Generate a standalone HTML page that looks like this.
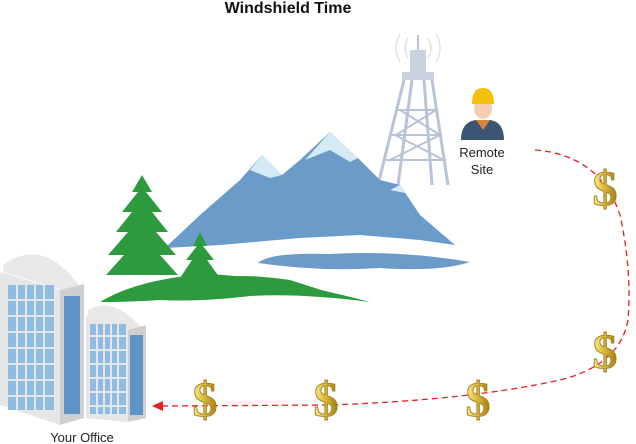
<!DOCTYPE html>
<html><head><style>body{margin:0;background:#fff}svg{display:block}</style></head><body>
<svg width="636" height="444" viewBox="0 0 636 444" xmlns="http://www.w3.org/2000/svg" font-family="Liberation Sans, sans-serif">
<defs>
<linearGradient id="g" x1="0" x2="1"><stop offset="0" stop-color="#fff0a0"/><stop offset="0.45" stop-color="#e0bb3a"/><stop offset="1" stop-color="#9a7a14"/></linearGradient>
<g id="d"><text x="0" y="0" font-size="50" font-weight="bold" fill="url(#g)" stroke="#a8862a" stroke-width="1" text-anchor="middle" font-family="Liberation Serif, serif">$</text></g>
</defs>
<text x="288" y="13" font-size="16" font-weight="bold" text-anchor="middle" fill="#111">Windshield Time</text>
<path d="M535,150 Q600,155 620,215 Q632,270 628,320 Q620,365 560,380 Q470,400 330,405 L160,406" fill="none" stroke="#e82020" stroke-width="1.3" stroke-dasharray="6,4"/>
<polygon points="152,406 163,401 163,411" fill="#e82020"/>
<g stroke="#b8c4d6" fill="none" stroke-width="3">
<path d="M404,80 L378,185 M432,80 L448,185 M412,80 L398,185 M424,80 L432,185"/>
<path d="M398,110 L438,110 M392,135 L442,135 M386,160 L446,160 M400,110 L440,135 M395,135 L444,160 M436,110 L396,135 M440,135 L390,160" stroke-width="2"/>
<rect x="402" y="72" width="32" height="8" fill="#c9d2e0" stroke="none"/>
<rect x="410" y="50" width="16" height="24" fill="#c9d2e0" stroke="none"/>
<path d="M418,50 L418,35" stroke-width="2"/>
<path d="M408,38 Q402,48 408,58 M428,38 Q434,48 428,58 M400,34 Q392,48 400,62 M436,34 Q444,48 436,62" stroke="#dfe3e8" stroke-width="1.5"/>
</g>
<path d="M165,248 L200,215 L240,180 L262,155 L282,175 L300,160 L330,132 L360,160 L380,180 L400,185 L420,215 L455,245 L420,240 L360,235 L300,238 L220,245 Z" fill="#6b9bc8"/>
<path d="M262,155 L250,170 L270,178 L282,175 Z M330,132 L305,160 L330,150 L350,162 L358,158 Z M400,185 L390,190 L405,193 Z" fill="#d4eaf4"/>
<path d="M258,263 Q270,252 330,254 Q400,250 470,262 Q440,272 380,268 Q320,272 258,263 Z" fill="#6b9bc8"/>
<g fill="#2e9a3e">
<path d="M142,175 L152,192 L146,192 L162,212 L152,212 L168,232 L156,232 L176,255 L160,255 L178,275 L106,275 L124,255 L108,255 L128,232 L116,232 L132,212 L122,212 L138,192 L132,192 Z"/>
<path d="M200,232 L207,246 L203,246 L214,260 L207,260 L220,278 L180,278 L192,260 L186,260 L197,246 L193,246 Z"/>
<path d="M100,302 Q140,278 210,274 Q280,278 370,302 Q300,293 250,296 Q200,302 160,300 Q130,302 100,302 Z"/>
<path d="M150,292 Q210,268 290,280 L340,296 Q260,286 150,292 Z"/>
</g>
<g>
<path d="M3,265 Q45,235 82,290 L82,296 L3,272 Z" fill="#e8e8e8"/>
<path d="M0,272 L60,290 L60,425 L0,405 Z" fill="#e6e6e6"/>
<path d="M60,290 L84,284 L84,418 L60,425 Z" fill="#cfcfcf"/>
<rect x="8" y="285" width="46" height="125" fill="#8fbbe3"/>
<rect x="64" y="296" width="16" height="118" fill="#5f95c6"/>
<path d="M88,310 Q115,295 143,330 L143,334 L88,318 Z" fill="#e8e8e8"/>
<path d="M86,316 L128,330 L128,422 L86,418 Z" fill="#e6e6e6"/>
<path d="M128,330 L146,325 L146,418 L128,422 Z" fill="#cfcfcf"/>
<rect x="90" y="324" width="36" height="90" fill="#8fbbe3"/>
<rect x="130" y="335" width="13" height="80" fill="#5f95c6"/>
<g stroke="#e6e6e6" stroke-width="2">
<path d="M17,285V410M26,285V410M35,285V410M44,285V410M8,300H54M8,316H54M8,332H54M8,348H54M8,364H54M8,380H54M8,396H54"/>
<path d="M97,324V414M104,324V414M111,324V414M118,324V414M90,336H126M90,350H126M90,364H126M90,378H126M90,392H126M90,406H126"/>
</g>
</g>
<text x="82" y="442" font-size="13" text-anchor="middle" fill="#222">Your Office</text>
<path d="M461,140 Q461,122 476,120 L490,120 Q504,122 504,140 Z" fill="#3c5572"/>
<path d="M476,120 L483,130 L490,120 Z" fill="#d9833a"/>
<ellipse cx="483" cy="108" rx="9" ry="11" fill="#f5cdb0"/>
<path d="M472,104 Q472,88 483,88 Q494,88 494,104 Z" fill="#f4c20d"/>
<text x="482" y="157" font-size="13" text-anchor="middle" fill="#222">Remote</text>
<text x="482" y="174" font-size="13" text-anchor="middle" fill="#222">Site</text>
<use href="#d" x="605" y="205"/>
<use href="#d" x="605" y="368"/>
<use href="#d" x="478" y="416"/>
<use href="#d" x="326" y="416"/>
<use href="#d" x="205" y="416"/>
</svg>
</body></html>
